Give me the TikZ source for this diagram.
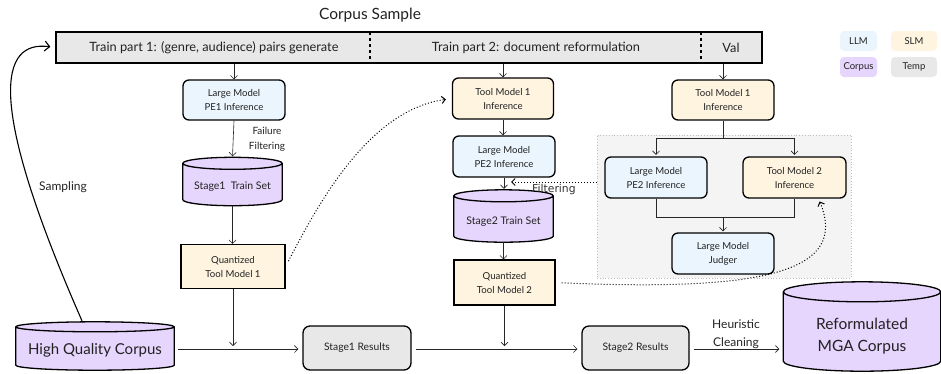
\documentclass[tikz,border=0pt]{standalone}
\usepackage{fontspec}
\setmainfont{Lato}
\newfontfamily\filtfont{DejaVu Sans}
\usetikzlibrary{arrows.meta,calc,backgrounds}
\definecolor{llmc}{HTML}{EAF5FD}
\definecolor{slmc}{HTML}{FEF4E0}
\definecolor{corpc}{HTML}{E6D5FC}
\definecolor{tempc}{HTML}{E8E8E8}
\definecolor{panelc}{HTML}{F4F4F4}
\definecolor{txtc}{HTML}{222222}
\newcommand{\cylfill}[2]{%
  \begin{scope}[on background layer]
  \path let \p1=(#1.north west), \p2=(#1.south east), \n1={(\x2-\x1)/2} in
    [draw=black, line width=1.3pt, fill=corpc, line join=round]
    (\x1,{\y1-#2}) -- (\x1,{\y2+#2})
    arc[start angle=180,end angle=360,x radius=\n1,y radius=#2]
    -- (\x2,{\y1-#2})
    arc[start angle=0,end angle=180,x radius=\n1,y radius=#2] -- cycle
    (\x1,{\y1-#2}) arc[start angle=180,end angle=360,x radius=\n1,y radius=#2];
  \end{scope}}
\newcommand{\cyltext}[2]{\raisebox{-#1}[\height][\depth]{\begin{tabular}{@{}c@{}}#2\end{tabular}}}
\begin{document}
\begin{tikzpicture}[x=1pt,y=-1pt,
  box/.style={draw=black, line width=1.3pt, align=center, inner sep=0pt,
    font=\fontsize{9.6}{14}\selectfont, text=txtc},
  llm/.style={box, rounded corners=6pt, fill=llmc},
  slm/.style={box, rounded corners=6pt, fill=slmc},
  quant/.style={box, fill=slmc},
  temp/.style={box, rounded corners=7pt, fill=tempc, font=\fontsize{10.3}{12}\selectfont},
  cyl/.style={inner sep=0pt, text=txtc},
  legend/.style={rounded corners=4pt, inner sep=0pt, font=\fontsize{9.5}{11}\selectfont, text=txtc},
  lbl/.style={inner sep=0pt, text=txtc, align=center},
  arr/.style={-{Straight Barb[length=3.5pt,width=7pt]}, line width=0.6pt, draw=black!85},
  plain/.style={line width=0.6pt, draw=black!85},
  dots/.style={dotted, line width=1pt, -{Straight Barb[length=3.5pt,width=7pt]}, draw=black}
]
\useasboundingbox (0,0) rectangle (941,373);

% title
\node[lbl, font=\fontsize{15.5}{17}\selectfont] (title) at (370,15) {Corpus Sample};

% top bar
\node[draw=black, line width=1.3pt, fill=tempc, minimum width=706pt, minimum height=31pt, inner sep=0pt] (bar) at (409,47.5) {};
\draw[dashed, line width=1.3pt] (370,32) -- (370,63);
\draw[dashed, line width=1.3pt] (701,32) -- (701,63);
\node[lbl, font=\fontsize{12.8}{14}\selectfont] (t1) at (214,47.5) {Train part 1: (genre, audience) pairs generate};
\node[lbl, font=\fontsize{12.8}{14}\selectfont] (t2) at (536,47.5) {Train part 2: document reformulation};
\node[lbl, font=\fontsize{12.8}{14}\selectfont] (t3) at (731,47.5) {Val};

% legend
\node[legend, fill=llmc, minimum width=37pt, minimum height=20pt] (lg1) at (858.5,41) {LLM};
\node[legend, fill=slmc, minimum width=46pt, minimum height=20pt] (lg2) at (914,41) {SLM};
\node[legend, fill=corpc, minimum width=37pt, minimum height=20pt] (lg3) at (858.5,67) {Corpus};
\node[legend, fill=tempc, minimum width=46pt, minimum height=20pt] (lg4) at (914,67) {Temp};

% gray panel
\node[draw=black!25, dotted, line width=0.8pt, fill=panelc, minimum width=254pt, minimum height=143pt, inner sep=0pt] (panel) at (724,206.5) {};

% column 1
\node[llm, minimum width=102pt, minimum height=40pt] (pe1) at (234,100) {Large Model\\PE1 Inference};
\node[cyl, minimum width=99pt, minimum height=48pt, font=\fontsize{10.5}{12}\selectfont] (st1) at (232.5,181.5) {\cyltext{6pt}{Stage1 \ Train Set}};
\cylfill{st1}{6pt}
\node[quant, minimum width=104pt, minimum height=44pt] (q1) at (233,266.5) {Quantized\\Tool Model 1};
\node[lbl, font=\fontsize{10}{15}\selectfont] (fail) at (267,139.5) {Failure\\Filtering};

% column 2
\node[slm, minimum width=101pt, minimum height=41pt] (tm1) at (503,98.5) {Tool Model 1\\Inference};
\node[llm, minimum width=102pt, minimum height=41pt] (pe2) at (504,156.5) {Large Model\\PE2 Inference};
\node[cyl, minimum width=99pt, minimum height=52pt, font=\fontsize{10.5}{12}\selectfont] (st2) at (503.5,216) {\cyltext{6pt}{Stage2 Train Set}};
\cylfill{st2}{6pt}
\node[quant, minimum width=101pt, minimum height=45pt] (q2) at (504.5,282.5) {Quantized\\Tool Model 2};

% column 3
\node[slm, minimum width=102pt, minimum height=40pt] (tm1r) at (723,100) {Tool Model 1\\Inference};
\node[llm, minimum width=102pt, minimum height=41pt] (pe2r) at (656,177.5) {Large Model\\PE2 Inference};
\node[slm, minimum width=103pt, minimum height=41pt] (tm2r) at (794.5,177.5) {Tool Model 2\\Inference};
\node[llm, minimum width=102pt, minimum height=41pt] (judge) at (723,253.5) {Large Model\\Judger};

% bottom row
\node[cyl, minimum width=158pt, minimum height=48pt, font=\fontsize{15}{17}\selectfont] (hqc) at (95,346) {\cyltext{5pt}{High Quality Corpus}};
\cylfill{hqc}{5pt}
\node[temp, minimum width=108pt, minimum height=44pt] (s1r) at (357,348) {Stage1 Results};
\node[temp, minimum width=107pt, minimum height=44pt] (s2r) at (635.5,348) {Stage2 Results};
\node[cyl, minimum width=157pt, minimum height=89pt, font=\fontsize{15.5}{18}\selectfont] (ref) at (862,326.5) {\cyltext{10pt}{Reformulated\\[4pt]MGA Corpus}};
\cylfill{ref}{10pt}

\node[lbl, font=\fontsize{12}{14}\selectfont] (samp) at (63,187) {Sampling};
\node[lbl, font=\fontsize{12}{14}\selectfont] (heur) at (736,324) {Heuristic};
\node[lbl, font=\fontsize{12}{14}\selectfont] (clean) at (736,343) {Cleaning};
\node[lbl, font=\filtfont\fontsize{10.8}{12}\selectfont, text=black!80, anchor=base west] (filtlbl) at (532,192.5) {Filtering};

% connectors
\draw[arr] (pe1.north |- bar.south) -- (pe1.north);
\draw[arr] (tm1.north |- bar.south) -- (tm1.north);
\draw[arr] (tm1r.north |- bar.south) -- (tm1r.north);
\draw[arr] (pe1.south) -- ($(st1.north)+(0,-1)$);
\draw[arr] (st1.south) -- (st1.south |- q1.north);
\draw[arr] (tm1.south) -- (tm1.south |- pe2.north);
\draw[arr] (pe2.south) -- ($(pe2.south |- st2.north)+(0,-1)$);
\draw[arr] (st2.south) -- (st2.south |- q2.north);

\coordinate (split) at ($(tm1r.south)+(0,18)$);
\draw[plain] (tm1r.south) -- (split);
\draw[arr] (split) -| ($(pe2r.north)+(0,-1.5)$);
\draw[arr] (split) -| ($(tm2r.north)+(0,-1.5)$);
\coordinate (join) at ($(tm1r.south |- pe2r.south)+(0,19)$);
\draw[plain] (pe2r.south) |- (join) -| (tm2r.south);
\draw[arr] (join) -- ($(judge.north)+(0,-1)$);

\coordinate (mainline) at (0,349);
\draw[arr, shorten <=4pt, shorten >=4pt] (hqc.east |- mainline) -- (s1r.west |- mainline);
\draw[arr, shorten <=4pt, shorten >=4pt] (s1r.east |- mainline) -- (s2r.west |- mainline);
\draw[arr, shorten <=4pt, shorten >=4pt] (s2r.east |- mainline) -- (ref.west |- mainline);
\draw[arr, shorten >=3pt] (q1.south) -- (q1.south |- mainline);
\draw[arr, shorten >=3pt] (q2.south) -- (q2.south |- mainline);

\coordinate (filtend) at (511,182);
\draw[dots] (panel.west |- filtend) -- (filtend);
\draw[dots, shorten <=6pt, shorten >=6pt] (q1.east) .. controls (320,200) and (370,110) .. (tm1.west);
\draw[dots, shorten <=6pt, shorten >=3pt] (q2.east) .. controls (770,292) and (848,270) .. ($(tm2r.south)+(24,0)$);

\draw[line width=1.1pt, -{Straight Barb[length=5pt,width=10pt]}, shorten >=5pt]
  ($(hqc.north)+(-13,-1)$) .. controls (-15,100) and (0,40) .. (bar.west);
\end{tikzpicture}
\end{document}
